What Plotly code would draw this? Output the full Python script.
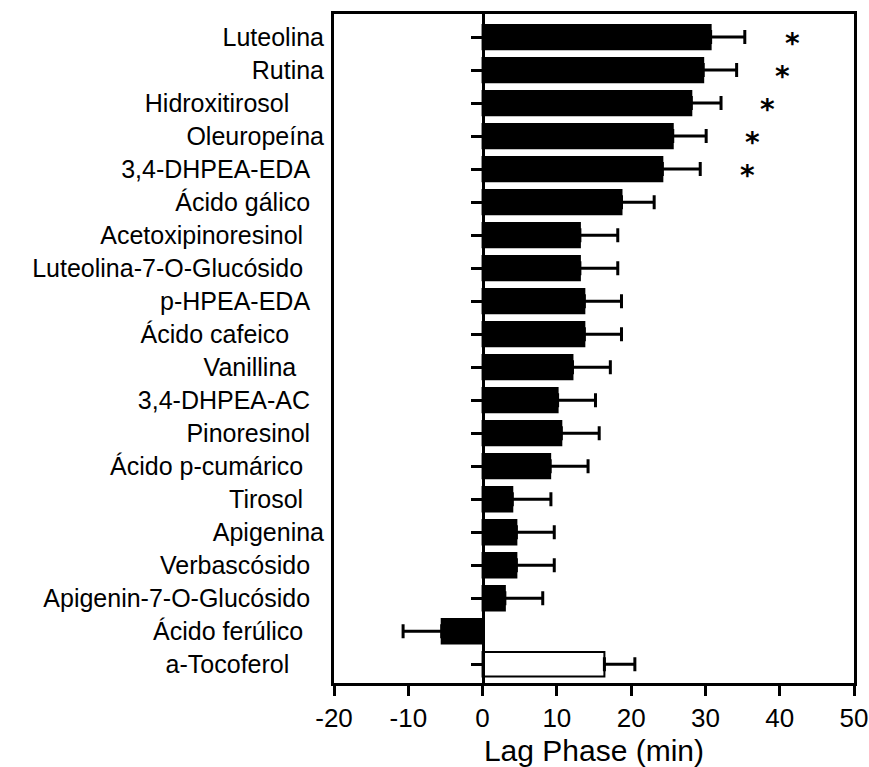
import plotly.graph_objects as go

NB = "\u00a0"
compounds = [
    "Luteolina", "Rutina", "Hidroxitirosol" + NB * 5, "Oleuropeína",
    "3,4-DHPEA-EDA" + NB * 2, "Ácido gálico" + NB * 2,
    "Acetoxipinoresinol" + NB * 3, "Luteolina-7-O-Glucósido" + NB * 3,
    "p-HPEA-EDA" + NB * 2, "Ácido cafeico" + NB * 5, "Vanillina" + NB * 4,
    "3,4-DHPEA-AC" + NB * 2, "Pinoresinol" + NB * 2,
    "Ácido p-cumárico" + NB * 3, "Tirosol" + NB * 3, "Apigenina",
    "Verbascósido" + NB * 2, "Apigenin-7-O-Glucósido" + NB * 2,
    "Ácido ferúlico" + NB * 3, "a-Tocoferol" + NB * 5,
]
lag_phase = [30.7, 29.7, 28.1, 25.6, 24.2, 18.7, 13.1, 13.1, 13.7, 13.7,
             12.1, 10.1, 10.6, 9.1, 4.0, 4.55, 4.55, 3.0, -5.5, 16.4]
errors = [4.6, 4.5, 4.0, 4.5, 5.1, 4.4, 5.1, 5.1, 5.0, 5.0,
          5.1, 5.1, 5.1, 5.1, 5.2, 5.1, 5.1, 5.1, 5.2, 4.1]
fill_colors = ["black"] * 19 + ["white"]
star_x = [41.7, 40.4, 38.4, 36.4, 35.6]
star_labels = ["*", "*", "*", "*", "*"]
x_ticks = [-20, -10, 0, 10, 20, 30, 40, 50]
x_tick_labels = ["-20", "-10", "0", "10", "20", "30", "40", "50"]

ypos = list(range(len(compounds)))
err_plus = [e if v >= 0 else 0 for v, e in zip(lag_phase, errors)]
err_minus = [e if v < 0 else 0 for v, e in zip(lag_phase, errors)]

FONT = "Liberation Sans, Arial, sans-serif"
yrange = [len(compounds) - 1 + 0.57, -0.7]

fig = go.Figure()
fig.add_trace(go.Bar(
    x=lag_phase, y=ypos, orientation="h", width=0.74,
    marker=dict(color=fill_colors, line=dict(color="black", width=2)),
    error_x=dict(type="data", symmetric=False, array=err_plus,
                 arrayminus=err_minus, color="black", thickness=3, width=7),
    showlegend=False, hoverinfo="skip",
))
# significance asterisks anchored to data coordinates
for sx, sy, st in zip(star_x, ypos, star_labels):
    fig.add_annotation(
        x=sx, y=sy, xref="x", yref="y", text=st, showarrow=False,
        yshift=-6,
        font=dict(family="DejaVu Sans, sans-serif", size=28, color="black",
                  weight="bold"),
    )

fig.update_layout(
    width=869, height=767,
    margin=dict(l=334, r=15, t=14, b=84, autoexpand=False),
    paper_bgcolor="white", plot_bgcolor="white",
    font=dict(family=FONT, color="black"),
    xaxis=dict(
        range=[-20, 50], tickvals=x_ticks, ticktext=x_tick_labels,
        ticks="outside", ticklen=10, automargin=False,
        ticklabeloverflow="allow",
        tickwidth=3, tickcolor="black", showline=True, linewidth=3,
        linecolor="black", mirror=True, showgrid=False, zeroline=False,
        tickfont=dict(size=26, family=FONT, color="black"),
        title=dict(text="Lag Phase (min)", standoff=8,
                   font=dict(size=30, family=FONT, color="black")),
    ),
    yaxis=dict(
        range=yrange, tickvals=ypos, ticktext=compounds, ticks="",
        showline=True, linewidth=3, linecolor="black", mirror=True,
        showgrid=False, zeroline=False, ticklabelstandoff=2,
        automargin=False,
        tickfont=dict(size=25, family=FONT, color="black"),
    ),
    yaxis2=dict(
        range=yrange, tickvals=ypos, overlaying="y", anchor="free",
        position=20 / 70, side="left", ticks="outside", ticklen=11,
        tickwidth=2.5, tickcolor="black", showticklabels=False,
        showline=True, linewidth=2.5, linecolor="black", showgrid=False,
        zeroline=False, automargin=False,
    ),
)
fig.add_trace(go.Scatter(
    x=[None], y=[None], yaxis="y2", showlegend=False, hoverinfo="skip",
))

fig.write_html("out.html")
